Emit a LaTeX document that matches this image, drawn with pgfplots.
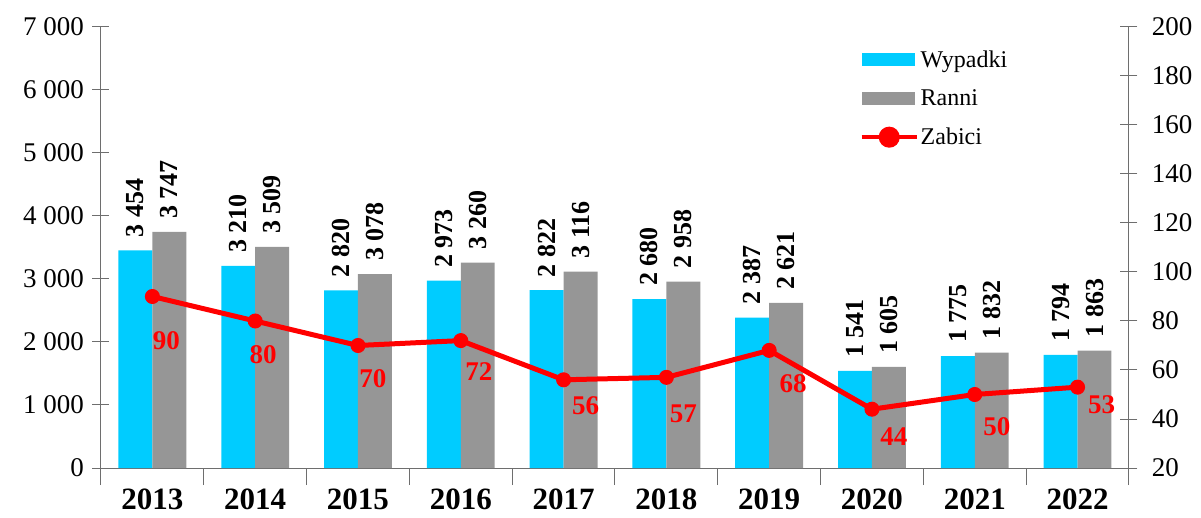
\documentclass[border=0pt]{standalone}
\usepackage{fontspec}
\setmainfont{Liberation Serif}
\usepackage{pgfplots}
\usepackage{pgfplotstable}
\pgfplotsset{compat=1.18}
\definecolor{wyp}{HTML}{00CCFF}
\definecolor{ran}{HTML}{969696}
\definecolor{axc}{HTML}{6E6E6E}

\pgfplotstableread{
x wyp ran
0 3454 3747
1 3210 3509
2 2820 3078
3 2973 3260
4 2822 3116
5 2680 2958
6 2387 2621
7 1541 1605
8 1775 1832
9 1794 1863
}\bars

\pgfplotstableread{
x zab dx dy
0 90 14 44
1 80 8 34
2 70 15 33
3 72 18 31
4 56 22 26
5 57 17 36
6 68 24 33
7 44 22 27
8 50 22 32
9 53 24 18
}\zab

\pgfplotsset{
  common/.style={
    scale only axis, width=1028bp, height=441bp,
    xmin=-0.5, xmax=9.5,
    axis line style={axc, line width=1bp},
    tick style={axc, line width=1bp},
    tick align=center, major tick length=17bp, minor tick length=17bp,
    /pgf/number format/1000 sep={\ },
    /pgf/number format/assume math mode=true,
    yticklabel style={font=\fontsize{27bp}{30bp}\selectfont, black},
    clip=false,
  }
}

\begin{document}
\begin{tikzpicture}
\useasboundingbox (-101bp,-50bp) rectangle (1100bp,468bp);
\begin{axis}[common,
  axis y line*=left, axis x line*=bottom,
  ymin=0, ymax=7000, ytick={0,1000,...,7000},
  yticklabel style={xshift=-5bp},
  xtick={0,...,9},
  xticklabels={2013,2014,2015,2016,2017,2018,2019,2020,2021,2022},
  xticklabel style={font=\bfseries\fontsize{31bp}{34bp}\selectfont, black},
  major x tick style={draw=none},
  minor xtick={-0.5,0.5,...,9.5},
  ybar=0pt, bar width=0.33,
  nodes near coords,
  every node near coord/.append style={rotate=90, anchor=west, inner xsep=13bp,
     font=\bfseries\fontsize{26bp}{28bp}\selectfont, black},
]
\addplot[fill=wyp, draw=none, bar shift=-0.165] table[x=x,y=wyp]{\bars};
\addplot[fill=ran, draw=none, bar shift=0.165] table[x=x,y=ran]{\bars};
\end{axis}
\begin{axis}[common,
  axis y line*=right, axis x line=none,
  ymin=20, ymax=200, ytick={20,40,...,200},
  yticklabel style={xshift=11bp},
  legend style={draw=none, fill=none, at={(0.735,0.956)}, anchor=north west,
     font=\fontsize{24bp}{26bp}\selectfont, row sep=17bp},
  legend cell align=left,
]
\addlegendimage{legend image code/.code={\fill[wyp] (0bp,-6bp) rectangle (52bp,6bp);}}
\addlegendentry{Wypadki}
\addlegendimage{legend image code/.code={\fill[ran] (0bp,-6bp) rectangle (52bp,6bp);}}
\addlegendentry{Ranni}
\addplot[red, line width=5bp, mark=*, mark size=7bp, mark options={line width=1bp, fill=red},
  nodes near coords,
  visualization depends on={\thisrow{dx}\as\labdx},
  visualization depends on={\thisrow{dy}\as\labdy},
  every node near coord/.append style={font=\bfseries\fontsize{27bp}{29bp}\selectfont, red,
     anchor=center, xshift=\labdx bp, yshift=-\labdy bp},
  legend image code/.code={\draw[red, line width=4bp] (0bp,0bp) -- (55bp,0bp);
     \fill[red] (27.5bp,0bp) circle (8bp);}
] table[x=x,y=zab]{\zab};
\addlegendentry{Zabici}
\end{axis}
\end{tikzpicture}
\end{document}
